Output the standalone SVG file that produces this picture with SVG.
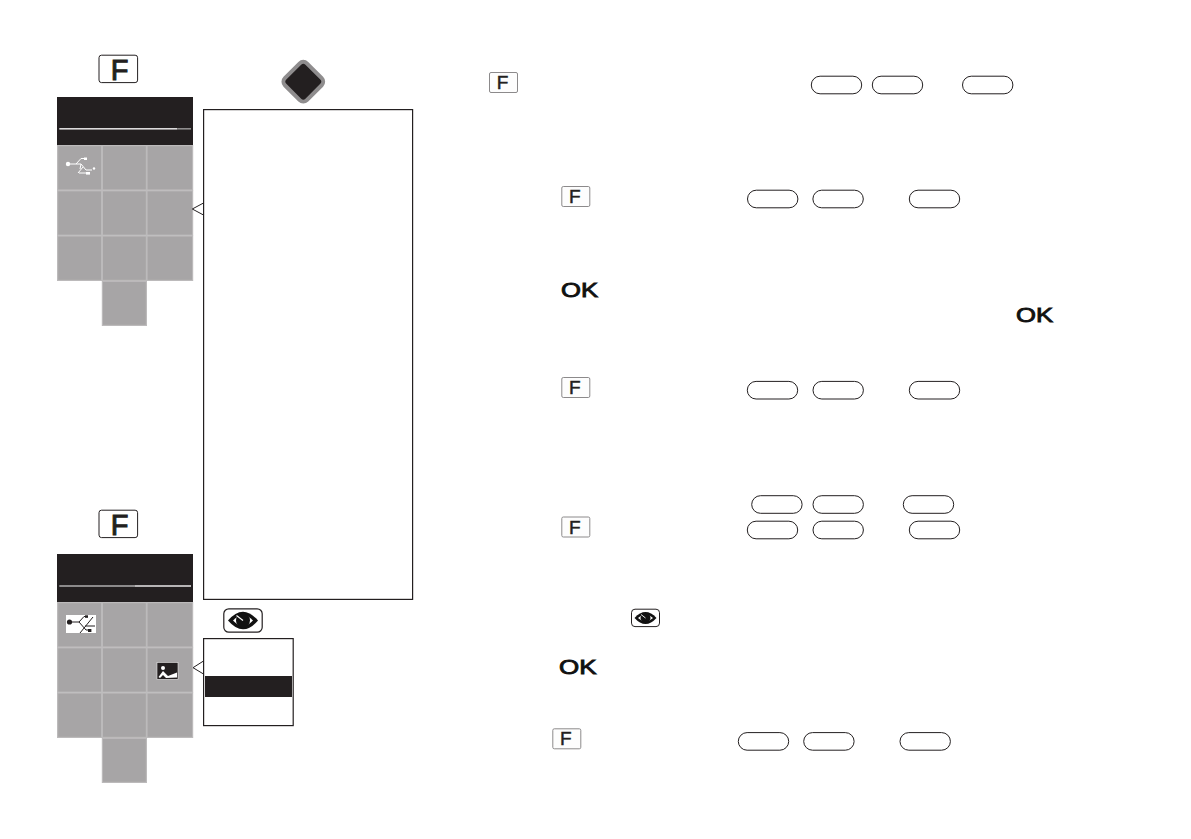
<svg xmlns="http://www.w3.org/2000/svg" width="1191" height="839" viewBox="0 0 1191 839">
<style>
.bg{fill:#fff}
.hdr{fill:#231f20}
.cell{fill:#a7a5a6;stroke:#bcbabb;stroke-width:1.2}
.box{fill:#fff;stroke:#231f20;stroke-width:1.2}
.pill{fill:#fff;stroke:#231f20;stroke-width:1}
.key{fill:#fff;stroke:#231f20;stroke-width:1}
.skey{fill:#fdfdfd;stroke:#8c8a8b;stroke-width:1}
.ptr{fill:#fff;stroke:#231f20;stroke-width:1}
.bigF{font-family:"Liberation Sans",Arial,sans-serif;font-weight:400;font-size:29px;fill:#231f20;stroke:#231f20;stroke-width:1;text-anchor:middle}
.smF{font-family:"Liberation Sans",Arial,sans-serif;font-weight:400;font-size:19px;fill:#231f20;stroke:#231f20;stroke-width:0.5;text-anchor:middle}
.ok{font-family:"Liberation Sans",Arial,sans-serif;font-weight:400;font-size:21px;fill:#111;stroke:#111;stroke-width:0.9}
.ul{stroke:#fff;stroke-width:1;fill:none}
.ud{stroke:#231f20;stroke-width:1;fill:none}
</style>
<defs>
<symbol id="pillS" overflow="visible"><rect class="pill" x="0" y="0" width="50.4" height="17.6" rx="8.8"/></symbol>
<g id="grid">
<rect class="cell" x="57.6" y="0.6" width="44" height="44.4"/>
<rect class="cell" x="102.4" y="0.6" width="44" height="44.4"/>
<rect class="cell" x="147" y="0.6" width="45.6" height="44.4"/>
<rect class="cell" x="57.6" y="45.8" width="44" height="44.4"/>
<rect class="cell" x="102.4" y="45.8" width="44" height="44.4"/>
<rect class="cell" x="147" y="45.8" width="45.6" height="44.4"/>
<rect class="cell" x="57.6" y="91" width="44" height="44.4"/>
<rect class="cell" x="102.4" y="91" width="44" height="44.4"/>
<rect class="cell" x="147" y="91" width="45.6" height="44.4"/>
<rect class="cell" x="102.4" y="136.2" width="44" height="44.2"/>
</g>
<g id="skeyF"><rect class="skey" x="0" y="0" width="28" height="20" rx="1.5"/><text class="smF" x="13" y="16.6">F</text></g>
</defs>
<rect class="bg" width="1191" height="839"/>

<g id="key-f-top"><rect class="key" x="99" y="55.2" width="38.6" height="27.4" rx="2.5"/><text class="bigF" x="119.5" y="79.5">F</text></g>

<g id="key-diamond"><rect x="287.8" y="66.2" width="31" height="31" rx="5" transform="rotate(45 303.3 81.7)" fill="#231f20" stroke="#8f8d8e" stroke-width="4"/></g>

<g id="menu-top">
<rect class="hdr" x="57" y="97" width="136" height="48"/>
<rect x="59.3" y="128" width="118" height="1.6" fill="#dcdadb"/>
<rect x="177.3" y="128" width="13.7" height="1.6" fill="#8f8d8e"/>
<use href="#grid" x="0" y="145"/>
<g id="icon-usb-top" class="ul">
<circle cx="68" cy="164" r="2.2" fill="#fff" stroke="none"/>
<path d="M70 164H81L86 170H92M76 164L81 158.5H86M81 164L80 169M78 173L83 167M79 173H87"/>
<circle cx="94" cy="168.5" r="1.2" fill="#fff" stroke="none"/>
<rect x="84" y="157.500" width="3" height="2.5" fill="#fff" stroke="none"/>
<rect x="86" y="172" width="4" height="2.6" fill="#fff" stroke="none"/>
</g>
</g>

<g id="box-top"><rect class="box" x="203.6" y="109.6" width="209" height="489.8"/></g>

<g id="key-f-bottom"><rect class="key" x="99" y="510.2" width="38.6" height="27.4" rx="2.5"/><text class="bigF" x="119.5" y="534.5">F</text></g>

<g id="menu-bottom">
<rect class="hdr" x="57" y="554" width="136" height="48"/>
<rect x="59.3" y="585.2" width="75.7" height="1.6" fill="#a7a5a6"/>
<rect x="135" y="585.2" width="56" height="1.6" fill="#dcdadb"/>
<use href="#grid" x="0" y="602"/>
<g id="icon-usb-bottom">
<rect x="66" y="615" width="30" height="18" fill="#fff"/>
<circle cx="69.5" cy="622" r="2.6" fill="#231f20"/>
<path class="ud" d="M72 622H79L84 616.5H87M79 622L86 630H90M93 617L80 633M85 626H95"/>
<rect x="85" y="615.300" width="3" height="2.5" fill="#231f20"/>
<rect x="88" y="629" width="3.4" height="3" fill="#231f20"/>
</g>
<g id="icon-picture">
<rect x="157" y="662.5" width="21" height="16.8" fill="#231f20" stroke="#e9e8e8" stroke-width="0.6"/>
<circle cx="163" cy="668" r="2" fill="#fff"/>
<path d="M158.5 677L163 671L168 676L177 672.5V677.5L166 678L163 675L160 678Z" fill="#fff"/>
</g>
</g>

<g id="key-eye">
<rect x="223.8" y="608.8" width="38.4" height="23.4" rx="5" fill="#fff" stroke="#231f20" stroke-width="1.2"/>
<path d="M228 620.5Q243 603 258 620.500Q243 638 228 620.500Z" fill="#111"/>
<path d="M233 620.5Q243 610 253 620.500Q243 631 233 620.500Z" fill="#fff"/>
<circle cx="243" cy="620.5" r="7" fill="#111"/>
<path d="M236.5 615.5L243 620.5" stroke="#fff" stroke-width="1.2" fill="none"/>
</g>

<g id="box-bottom">
<rect class="box" x="203.6" y="638.6" width="89.6" height="87"/>
<rect class="hdr" x="205" y="676" width="87" height="21"/>
</g>

<g id="connectors">
<path class="ptr" d="M203.5 203L192.3 209L203.5 215Z"/>
<path class="ptr" d="M203.5 661L193 667.7L203.5 674Z"/>
</g>

<g id="key-f-1"><use href="#skeyF" x="489.5" y="72.5"/></g>
<g id="pills-1"><use href="#pillS" x="811.3" y="76.2"/><use href="#pillS" x="872.3" y="76.2"/><use href="#pillS" x="962.5" y="76.2"/></g>

<g id="key-f-2"><use href="#skeyF" x="561.8" y="186.5"/></g>
<g id="pills-2"><use href="#pillS" x="747.5" y="190.2"/><use href="#pillS" x="812.9" y="190.2"/><use href="#pillS" x="909.3" y="190.2"/></g>

<g id="key-ok-1"><text class="ok" x="561" y="296.6" textLength="37" lengthAdjust="spacingAndGlyphs">OK</text></g>
<g id="key-ok-2"><text class="ok" x="1016" y="322.3" textLength="37" lengthAdjust="spacingAndGlyphs">OK</text></g>

<g id="key-f-3"><use href="#skeyF" x="561.8" y="377.5"/></g>
<g id="pills-3"><use href="#pillS" x="747.3" y="381.4"/><use href="#pillS" x="813" y="381.4"/><use href="#pillS" x="909.3" y="381.4"/></g>

<g id="pills-4"><use href="#pillS" x="751.7" y="495.7"/><use href="#pillS" x="813" y="495.7"/><use href="#pillS" x="903.3" y="495.7"/></g>
<g id="key-f-4"><use href="#skeyF" x="561.8" y="517"/></g>
<g id="pills-5"><use href="#pillS" x="747.3" y="521.2"/><use href="#pillS" x="813" y="521.2"/><use href="#pillS" x="909.3" y="521.2"/></g>

<g id="key-eye-small">
<rect x="631.5" y="609.2" width="28" height="17.4" rx="3.5" fill="#fff" stroke="#231f20" stroke-width="1"/>
<path d="M634.5 617.900Q645.5 606 656.500 617.900Q645.500 630 634.500 617.900Z" fill="#111"/>
<path d="M638 617.900Q645.500 611 653 617.900Q645.500 625 638 617.900Z" fill="#fff"/>
<circle cx="645.5" cy="617.9" r="5" fill="#111"/>
<path d="M641 614.500L645.500 618" stroke="#fff" stroke-width="0.9" fill="none"/>
</g>

<g id="key-ok-3"><text class="ok" x="559" y="673.6" textLength="37.5" lengthAdjust="spacingAndGlyphs">OK</text></g>

<g id="key-f-5"><use href="#skeyF" x="552.8" y="728.8"/></g>
<g id="pills-6"><use href="#pillS" x="738.3" y="732.6"/><use href="#pillS" x="803.7" y="732.6"/><use href="#pillS" x="900" y="732.6"/></g>
</svg>
